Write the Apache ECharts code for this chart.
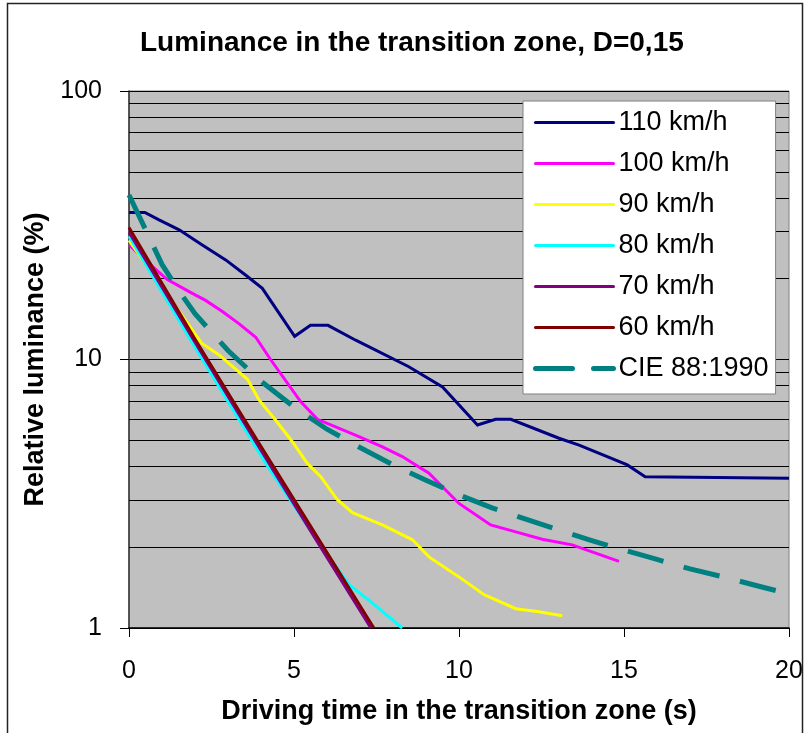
<!DOCTYPE html>
<html>
<head>
<meta charset="utf-8">
<script src="https://cdn.jsdelivr.net/npm/echarts@6/dist/echarts.min.js"></script>
<style>
html,body{margin:0;padding:0;background:#fff;}
#chart{width:808px;height:733px;}
</style>
</head>
<body>
<div id="chart"></div>
<script>
// ---- data ----
const seriesNames = ['110 km/h', '100 km/h', '90 km/h', '80 km/h', '70 km/h', '60 km/h', 'CIE 88:1990'];

const t110 = [0, 0.48, 0.91, 1.52, 2.22, 2.93, 3.54, 4.04, 5.02, 5.5, 6.03, 6.87, 8.48, 9.5, 10.56, 11.11, 11.57, 13.03, 13.64, 15.1, 15.64, 20];
const v110 = [35.3, 35.3, 33.1, 30.4, 26.7, 23.5, 20.6, 18.4, 12.2, 13.4, 13.4, 11.8, 9.4, 7.9, 5.70, 5.99, 5.99, 5.09, 4.80, 4.05, 3.66, 3.61];

const t100 = [0, 0.5, 1.15, 1.82, 2.32, 2.83, 3.33, 3.84, 4.29, 5.2, 5.71, 6.97, 7.68, 8.28, 9.09, 10.0, 10.96, 11.72, 12.52, 13.43, 14.14, 14.85];
const v100 = [26.8, 23.4, 19.9, 17.9, 16.6, 15.1, 13.6, 12.1, 10.0, 6.97, 5.99, 5.16, 4.73, 4.35, 3.77, 2.91, 2.42, 2.28, 2.14, 2.04, 1.90, 1.77];

const t90 = [0, 2.2, 2.73, 3.59, 3.94, 4.44, 4.95, 5.4, 5.81, 6.31, 6.77, 7.68, 8.59, 9.09, 10.0, 10.76, 11.72, 12.42, 13.13];
const v90 = [27.8, 11.5, 10.4, 8.44, 7.07, 5.95, 4.94, 4.11, 3.66, 3.01, 2.69, 2.42, 2.13, 1.84, 1.55, 1.33, 1.18, 1.15, 1.11];

const t80 = [0, 1.87, 4.14, 5.76, 6.67, 7.37, 8.28];
const v80 = [28.8, 11.8, 4.11, 2.07, 1.45, 1.24, 1.0];

const t70 = [0, 2.0, 3.9, 5.7, 7.33];
const v70 = [29.8, 11.6, 4.8, 2.1, 1.0];

const t60 = [0, 2.02, 3.94, 5.76, 7.42];
const v60 = [31.0, 11.8, 4.87, 2.13, 1.0];

const tCIE = [0, 0.5, 1, 1.5, 2, 3, 4, 5, 6, 7, 8, 9, 10, 11, 12, 13, 14, 15, 16, 17, 18, 19, 20];
const vCIE = [41.0, 30.5, 22.6, 18.1, 14.8, 10.8, 8.3, 6.65, 5.5, 4.7, 4.05, 3.55, 3.13, 2.8, 2.55, 2.32, 2.12, 1.95, 1.8, 1.66, 1.55, 1.44, 1.34];

const xTicks = [0, 5, 10, 15, 20];
const minorGrid = [2, 3, 4, 5, 6, 7, 8, 9, 20, 30, 40, 50, 60, 70, 80, 90];

// ---- styles ----
const colors = ['#000080', '#FF00FF', '#FFFF00', '#00FFFF', '#800080', '#800000', '#008080'];
const FONT = 'Liberation Sans, Arial, sans-serif';

function pairs(t, v) { return t.map((x, i) => [x, v[i]]); }
const allT = [t110, t100, t90, t80, t70, t60, tCIE];
const allV = [v110, v100, v90, v80, v70, v60, vCIE];

const series = seriesNames.map((name, i) => {
  const isCIE = i === 6;
  const s = {
    name: name,
    type: 'line',
    data: pairs(allT[i], allV[i]),
    symbol: 'none',
    showSymbol: false,
    clip: true,
    z: 3,
    lineStyle: {
      color: colors[i],
      width: isCIE ? 5 : 3,
      type: isCIE ? [37, 21] : 'solid',
      cap: 'butt',
      join: 'miter'
    },
    itemStyle: { color: colors[i] },
    emphasis: { disabled: true }
  };
  if (i === 0) {
    s.markLine = {
      silent: true,
      z: 1,
      symbol: ['none', 'none'],
      label: { show: false },
      lineStyle: { color: '#000', width: 1, type: 'solid' },
      emphasis: { disabled: true },
      data: minorGrid.map(v => ({ yAxis: v }))
    };
  }
  return s;
});

const chart = echarts.init(document.getElementById('chart'), null, { renderer: 'canvas' });
chart.setOption({
  animation: false,
  backgroundColor: '#ffffff',
  title: {
    text: 'Luminance in the transition zone, D=0,15',
    left: 140,
    top: 29,
    padding: 0,
    textStyle: { fontFamily: FONT, fontSize: 28, fontWeight: 'bold', color: '#000' }
  },
  graphic: [{
    type: 'rect',
    shape: { x: 7.5, y: 3.5, width: 795, height: 780 },
    style: { fill: 'none', stroke: '#222', lineWidth: 1.5 },
    silent: true,
    z: -1
  }],
  legend: {
    orient: 'vertical',
    left: 523,
    top: 101,
    backgroundColor: '#ffffff',
    borderColor: '#808080',
    borderWidth: 1,
    borderRadius: 0,
    padding: [8, 7, 12, 10],
    itemWidth: 78,
    itemHeight: 14,
    itemGap: 14,
    selectedMode: false,
    itemStyle: { opacity: 0 },
    lineStyle: { width: 'inherit', type: 'inherit', cap: 'round' },
    textStyle: { fontFamily: FONT, fontSize: 27, color: '#000' },
    data: seriesNames
  },
  grid: {
    left: 129,
    top: 91,
    width: 660,
    height: 537,
    show: true,
    backgroundColor: '#C0C0C0',
    borderColor: '#808080',
    borderWidth: 1
  },
  xAxis: {
    type: 'value',
    min: xTicks[0],
    max: xTicks[xTicks.length - 1],
    interval: 5,
    name: 'Driving time in the transition zone (s)',
    nameLocation: 'middle',
    nameGap: 70,
    nameTextStyle: { fontFamily: FONT, fontSize: 27, fontWeight: 'bold', color: '#000' },
    axisLine: { show: true, lineStyle: { color: '#000', width: 1.5 } },
    axisTick: { show: true, inside: false, length: 9, lineStyle: { color: '#000', width: 1 } },
    axisLabel: { margin: 31, fontFamily: FONT, fontSize: 25, color: '#000' },
    splitLine: { show: false }
  },
  yAxis: {
    type: 'log',
    logBase: 10,
    min: 1,
    max: 100,
    name: 'Relative luminance (%)',
    nameLocation: 'middle',
    nameGap: 74,
    nameRotate: 90,
    nameTextStyle: { fontFamily: FONT, fontSize: 27, fontWeight: 'bold', color: '#000' },
    axisLine: { show: true, lineStyle: { color: '#333', width: 1.5 } },
    axisTick: { show: true, inside: false, length: 9, lineStyle: { color: '#000', width: 1 } },
    axisLabel: { margin: 27, fontFamily: FONT, fontSize: 25, color: '#000' },
    splitLine: { show: true, lineStyle: { color: '#000', width: 1 } },
    minorTick: { show: false },
    minorSplitLine: { show: false }
  },
  series: series
});
</script>
</body>
</html>
